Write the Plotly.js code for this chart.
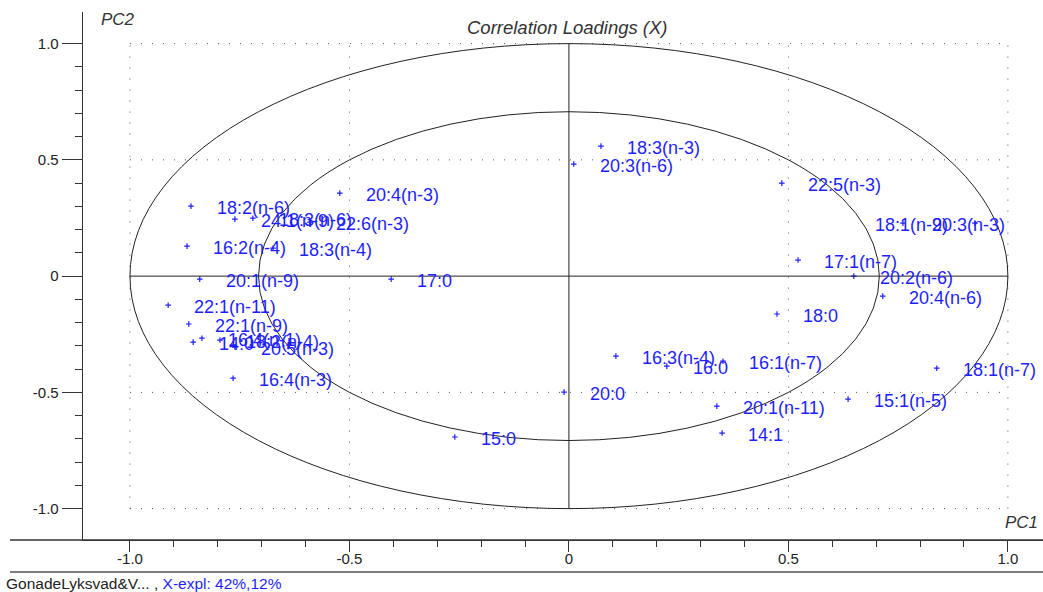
<!DOCTYPE html>
<html>
<head>
<meta charset="utf-8">
<script src="https://cdn.plot.ly/plotly-3.0.1.min.js"></script>
<style>
  html, body { margin: 0; padding: 0; background: #ffffff; }
  #chart { width: 1043px; height: 592px; }
</style>
</head>
<body>
<div id="chart"></div>
<script>
// ---- data ----
const variables = [
  "18:2(n-6)", "24:1(n-9)", "18:3(n-6)", "22:6(n-3)", "20:4(n-3)",
  "16:2(n-4)", "18:3(n-4)", "20:1(n-9)", "17:0", "22:1(n-11)",
  "22:1(n-9)", "14:0", "16:4(n-1)", "18:2(n-4)", "20:5(n-3)",
  "16:4(n-3)", "18:3(n-3)", "20:3(n-6)", "22:5(n-3)", "17:1(n-7)",
  "18:1(n-9)", "20:3(n-3)", "20:2(n-6)", "20:4(n-6)", "18:0",
  "16:3(n-4)", "16:0", "16:1(n-7)", "20:0", "20:1(n-11)",
  "14:1", "15:0", "15:1(n-5)", "18:1(n-7)"
];
const pc1 = [
  -0.861, -0.761, -0.720, -0.590, -0.522,
  -0.870, -0.674, -0.841, -0.405, -0.913,
  -0.866, -0.856, -0.836, -0.795, -0.761,
  -0.765,  0.073,  0.011,  0.485,  0.522,
   0.761,  0.925,  0.649,  0.715,  0.474,
   0.107,  0.223,  0.351, -0.011,  0.337,
   0.349, -0.260,  0.636,  0.838
];
const pc2 = [
   0.301,  0.245,  0.249,  0.232,  0.357,
   0.129,  0.120, -0.013, -0.013, -0.125,
  -0.206, -0.284, -0.267, -0.275, -0.305,
  -0.439,  0.559,  0.482,  0.400,  0.069,
   0.228,  0.228,  0.000, -0.086, -0.163,
  -0.344, -0.387, -0.366, -0.499, -0.559,
  -0.675, -0.692, -0.529, -0.396
];
const tickVals = [-1.0, -0.5, 0, 0.5, 1.0];
const tickText = ["-1.0", "-0.5", "0", "0.5", "1.0"];
const gridVals = [-1.0, -0.5, 0.5, 1.0];
const explained = "X-expl: 42%,12%";
const datasetName = "GonadeLyksvad&V... ,";

// ---- styles ----
const BLUE = "#1e1eff";
const FONT = "Liberation Sans, Arial, sans-serif";
const labelShift = { "18:1(n-9)": -30, "20:3(n-3)": -45 };
const minorVals = [];
for (let i = -10; i <= 10; i++) { if (i % 5 !== 0) minorVals.push(i / 10); }

const shapes = [];
// dotted grid, bounded to [-1, 1]
gridVals.forEach(v => {
  shapes.push({type: "line", xref: "x", yref: "y", x0: v, x1: v, y0: -1, y1: 1,
    line: {color: "#555", width: 1, dash: "1px,10px"}, layer: "below"});
  shapes.push({type: "line", xref: "x", yref: "y", x0: -1, x1: 1, y0: v, y1: v,
    line: {color: "#555", width: 1, dash: "1px,10px"}, layer: "below"});
});
// solid axes through origin
shapes.push({type: "line", xref: "x", yref: "y", x0: -1, x1: 1, y0: 0, y1: 0, line: {color: "#222", width: 1}});
shapes.push({type: "line", xref: "x", yref: "y", x0: 0, x1: 0, y0: -1, y1: 1, line: {color: "#222", width: 1}});
// circles: 100% and 50% explained variance
const r = Math.sqrt(0.5);
shapes.push({type: "circle", xref: "x", yref: "y", x0: -1, x1: 1, y0: -1, y1: 1, line: {color: "#222", width: 1}});
shapes.push({type: "circle", xref: "x", yref: "y", x0: -r, x1: r, y0: -r, y1: r, line: {color: "#222", width: 1}});
// frame lines outside the plot
shapes.push({type: "line", xref: "paper", yref: "paper", x0: -0.076, x1: 1, y0: 0, y1: 0, line: {color: "#333", width: 1.3}});
shapes.push({type: "line", xref: "paper", yref: "paper", x0: -0.076, x1: 1, y0: -0.0606, y1: -0.0606, line: {color: "#555", width: 1.3}});

const annotations = variables.map((name, i) => ({
  x: pc1[i], y: pc2[i], xref: "x", yref: "y", text: name, showarrow: false,
  xanchor: "left", yanchor: "middle",
  xshift: (labelShift[name] !== undefined ? labelShift[name] : 24), yshift: -2,
  font: {family: FONT, size: 18, color: BLUE}
}));
annotations.push({xref: "paper", yref: "paper", x: 0.505, y: 0.971, text: "<i>Correlation Loadings (X)</i>",
  showarrow: false, xanchor: "center", yanchor: "middle", font: {family: FONT, size: 18.5, color: "#333"}});
annotations.push({xref: "paper", yref: "paper", x: 0.017, y: 0.985, text: "<i>PC2</i>",
  showarrow: false, xanchor: "left", yanchor: "middle", font: {family: FONT, size: 17, color: "#333"}});
annotations.push({xref: "paper", yref: "paper", x: 0.958, y: 0.034, text: "<i>PC1</i>",
  showarrow: false, xanchor: "left", yanchor: "middle", font: {family: FONT, size: 17, color: "#333"}});
annotations.push({xref: "paper", yref: "paper", x: -0.082, y: -0.082,
  text: datasetName + " <span style='color:" + BLUE + "'>" + explained + "</span>",
  showarrow: false, xanchor: "left", yanchor: "middle", font: {family: FONT, size: 15.5, color: "#222"}});

const trace = {
  x: pc1, y: pc2, text: variables, type: "scatter", mode: "markers",
  marker: {symbol: "cross-thin", size: 4, color: BLUE, line: {color: BLUE, width: 1.2}},
  hoverinfo: "text", cliponaxis: false
};

const layout = {
  width: 1043, height: 592,
  margin: {l: 83, r: 0, t: 12, b: 52, pad: 0},
  paper_bgcolor: "#ffffff", plot_bgcolor: "#ffffff",
  showlegend: false,
  xaxis: {
    range: [-1.107, 1.080], showgrid: false, zeroline: false,
    showline: true, linecolor: "#333", linewidth: 1,
    tickvals: tickVals, ticktext: tickText, ticks: "outside", ticklen: 11, tickcolor: "#333",
    tickfont: {family: FONT, size: 15, color: "#222"},
    ticklabelstandoff: -6,
    minor: {tickvals: minorVals, ticks: "outside", ticklen: 6, tickcolor: "#333", showgrid: false},
    fixedrange: true
  },
  yaxis: {
    range: [-1.135, 1.136], showgrid: false, zeroline: false,
    showline: true, linecolor: "#333", linewidth: 1.3,
    tickvals: tickVals, ticktext: tickText, ticks: "outside", ticklen: 20, tickcolor: "#333",
    tickfont: {family: FONT, size: 15, color: "#222"},
    minor: {tickvals: minorVals, ticks: "outside", ticklen: 7, tickcolor: "#333", showgrid: false},
    fixedrange: true
  },
  shapes: shapes,
  annotations: annotations,
  hovermode: false
};

Plotly.newPlot("chart", [trace], layout, {displayModeBar: false, staticPlot: true});
</script>
</body>
</html>
